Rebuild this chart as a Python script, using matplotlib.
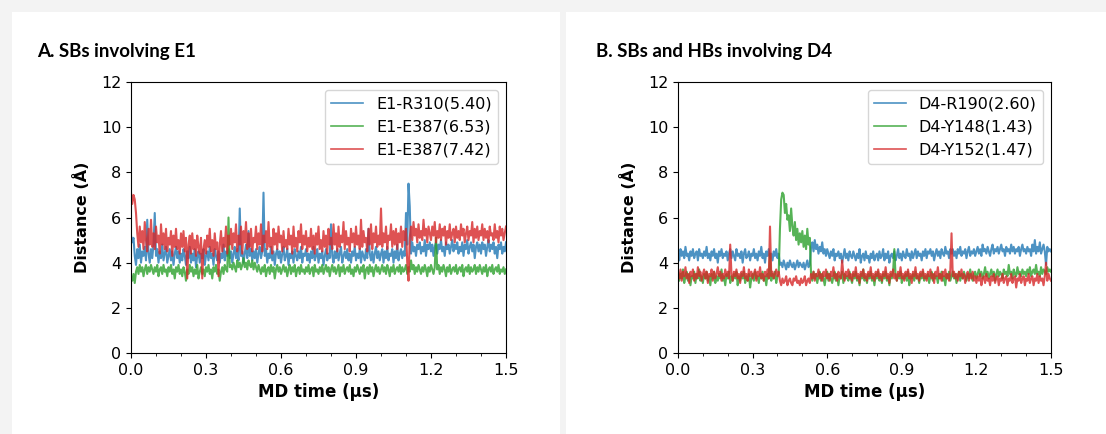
import numpy as np
import matplotlib.pyplot as plt
from matplotlib.patches import Rectangle

plt.rcParams['font.family'] = 'DejaVu Sans'

# MD time axis, one frame every 0.005 us
time_us = np.round(np.arange(301) * 0.005, 3)

# panel A: salt bridges involving E1
e1_r310 = [
    5.2, 4.9, 5.1, 4.3, 3.9, 4.6, 4.2, 4.8, 4.0, 4.5, 4.3, 4.7, 4.1, 5.9, 4.4, 4.0, 4.6, 4.2, 4.8, 6.2,
    4.3, 4.6, 4.0, 4.5, 4.2, 4.8, 4.1, 4.4, 4.7, 4.0, 4.3, 4.6, 4.1, 4.5, 3.9, 4.4, 4.7, 4.2, 4.5, 4.0,
    4.4, 4.1, 4.6, 4.3, 3.9, 4.5, 4.2, 4.7, 4.0, 4.4, 4.1, 4.6, 3.8, 4.3, 4.5, 4.0, 4.4, 4.2, 4.6, 3.9,
    4.3, 4.5, 4.1, 4.7, 4.2, 4.4, 3.9, 4.6, 4.3, 4.1, 4.5, 4.0, 4.4, 4.2, 4.8, 4.1, 4.5, 4.3, 4.6, 4.2,
    4.5, 4.0, 4.4, 4.7, 4.2, 4.6, 4.1, 6.4, 4.3, 4.5, 4.0, 4.4, 4.8, 4.2, 5.4, 4.3, 4.6, 4.1, 4.5, 4.2,
    4.6, 4.0, 4.4, 4.7, 4.2, 4.5, 7.1, 4.3, 4.6, 4.0, 4.4, 4.2, 4.7, 4.1, 4.5, 3.9, 4.4, 4.6, 4.2, 4.5,
    4.0, 4.4, 4.7, 4.1, 4.3, 4.6, 3.9, 4.4, 4.2, 4.5, 4.0, 4.6, 4.3, 4.1, 4.5, 4.2, 4.7, 4.0, 4.4, 4.3,
    4.6, 4.1, 4.4, 4.0, 4.5, 4.2, 4.7, 4.1, 4.3, 4.6, 4.0, 4.4, 4.2, 4.5, 3.9, 4.3, 4.6, 4.1, 4.4, 4.2,
    5.7, 4.3, 4.0, 4.5, 4.2, 4.6, 4.1, 4.4, 4.7, 4.0, 4.3, 4.5, 4.2, 4.6, 4.1, 4.4, 4.0, 4.5, 4.3, 4.7,
    4.1, 4.4, 4.2, 4.6, 4.0, 4.5, 4.3, 4.1, 4.6, 4.2, 5.5, 4.4, 4.1, 4.5, 4.0, 4.4, 4.7, 4.2, 4.5, 4.1,
    4.4, 4.6, 4.0, 4.5, 4.2, 4.7, 4.1, 4.4, 4.3, 4.6, 4.0, 4.5, 4.2, 4.8, 4.1, 4.4, 4.6, 4.2, 4.5, 4.3,
    6.2, 4.8, 7.5, 6.5, 4.4, 4.9, 4.5, 4.7, 4.3, 4.8, 4.6, 4.9, 4.4, 4.7, 4.5, 5.0, 4.3, 4.8, 4.6, 4.9,
    4.5, 4.8, 4.3, 4.7, 4.9, 4.4, 4.8, 4.6, 5.0, 4.5, 4.7, 4.3, 4.9, 4.6, 4.8, 4.4, 4.7, 5.0, 4.5, 4.8,
    4.6, 4.9, 4.4, 4.7, 4.5, 4.9, 4.3, 4.8, 4.6, 5.0, 4.4, 4.7, 4.9, 4.5, 4.8, 4.2, 4.7, 4.9, 4.5, 4.8,
    4.4, 4.9, 4.6, 4.8, 4.3, 4.7, 5.0, 4.5, 4.8, 4.6, 4.9, 4.4, 4.7, 4.2, 4.8, 4.6, 4.9, 4.4, 4.7, 4.5,
    4.9]
e1_e387_a = [
    3.3, 3.2, 3.5, 3.1, 3.6, 3.8, 3.5, 3.9, 3.6, 3.8, 3.4, 3.7, 3.9, 3.5, 3.8, 3.6, 3.9, 3.7, 3.5, 3.8,
    3.6, 3.9, 3.4, 3.7, 3.8, 3.5, 3.9, 3.6, 3.7, 3.4, 3.8, 3.6, 3.9, 3.5, 3.7, 3.3, 3.8, 3.6, 3.9, 3.5,
    3.7, 3.4, 3.8, 3.6, 3.2, 3.7, 3.5, 3.9, 3.6, 3.8, 3.4, 3.7, 3.5, 3.9, 3.3, 3.6, 3.8, 3.5, 3.7, 3.4,
    3.8, 3.6, 3.9, 3.5, 3.7, 3.3, 3.8, 3.6, 3.9, 3.5, 3.7, 3.2, 3.6, 3.8, 3.5, 3.9, 3.7, 3.6, 6.0, 3.8,
    3.9, 3.7, 4.0, 3.8, 3.6, 4.1, 3.8, 4.0, 3.7, 3.9, 4.2, 3.8, 4.0, 3.7, 4.1, 3.9, 3.8, 4.1, 3.7, 4.0,
    3.8, 3.6, 3.9, 3.7, 3.5, 3.8, 3.6, 3.9, 3.4, 3.7, 3.8, 3.5, 3.9, 3.6, 3.8, 3.3, 3.7, 3.9, 3.6, 3.8,
    3.5, 3.7, 3.9, 3.6, 3.8, 3.4, 3.7, 3.9, 3.5, 3.8, 3.6, 3.9, 3.4, 3.7, 3.8, 3.5, 3.9, 3.6, 3.7, 3.5,
    3.8, 3.6, 3.9, 3.5, 3.7, 3.8, 3.4, 3.9, 3.6, 3.7, 3.5, 3.8, 3.6, 3.9, 3.5, 3.7, 3.9, 3.6, 3.8, 3.4,
    3.7, 3.9, 3.6, 3.8, 3.5, 3.7, 3.9, 3.4, 3.8, 3.6, 3.9, 3.5, 3.7, 3.8, 3.6, 3.9, 3.5, 3.7, 3.4, 3.8,
    3.6, 3.9, 3.7, 3.5, 3.8, 3.6, 3.9, 3.3, 3.7, 3.8, 3.5, 3.9, 3.6, 3.8, 3.4, 3.7, 3.9, 3.6, 3.8, 3.5,
    3.7, 3.9, 3.6, 3.8, 3.5, 3.9, 3.7, 3.4, 3.8, 3.6, 3.9, 3.5, 3.7, 3.8, 3.6, 3.9, 3.5, 3.8, 3.6, 3.7,
    3.9, 3.5, 3.8, 3.6, 4.1, 3.7, 3.9, 3.5, 3.8, 3.6, 3.9, 3.7, 3.5, 3.8, 3.6, 3.9, 3.7, 3.4, 3.8, 3.6,
    3.9, 3.7, 3.5, 3.8, 5.1, 3.7, 3.9, 3.5, 3.8, 3.6, 3.9, 3.7, 3.4, 3.8, 3.6, 3.9, 3.5, 3.7, 3.8, 3.6,
    3.9, 3.5, 3.7, 3.8, 3.6, 3.9, 3.4, 3.7, 3.8, 3.6, 3.9, 3.5, 3.8, 3.6, 3.7, 3.9, 3.5, 3.8, 3.6, 3.9,
    3.7, 3.5, 3.8, 3.6, 3.9, 3.4, 3.7, 3.8, 3.6, 3.9, 3.5, 3.7, 3.8, 3.6, 3.9, 3.5, 3.7, 3.6, 3.8, 3.5,
    3.7]
e1_e387_b = [
    7.1, 6.6, 7.0, 6.8, 6.2, 5.3, 4.7, 5.6, 4.9, 5.4, 4.6, 5.8, 5.0, 4.5, 5.5, 4.8, 5.9, 4.7, 5.3, 4.6,
    5.6, 4.9, 5.2, 4.4, 5.7, 4.8, 5.3, 4.6, 5.5, 4.5, 5.1, 4.8, 5.4, 4.3, 5.2, 4.7, 5.5, 4.6, 5.0, 4.4,
    5.3, 4.7, 5.4, 4.5, 5.1, 3.3, 4.8, 5.2, 4.4, 5.3, 4.6, 5.0, 4.3, 5.2, 4.7, 4.4, 5.1, 3.3, 4.6, 5.0,
    4.4, 5.2, 4.7, 5.5, 4.5, 5.0, 4.3, 5.3, 4.6, 4.9, 3.4, 4.8, 5.4, 4.5, 5.1, 4.7, 5.6, 4.4, 5.2, 4.8,
    5.5, 4.6, 5.3, 4.9, 5.7, 4.5, 5.2, 4.8, 5.6, 4.4, 5.4, 4.9, 5.8, 4.6, 5.3, 4.7, 5.5, 4.5, 5.1, 4.9,
    5.6, 4.6, 5.3, 4.8, 5.7, 4.5, 5.2, 4.9, 5.4, 4.6, 5.8, 4.7, 5.1, 4.4, 5.5, 4.8, 5.3, 4.6, 5.6, 4.9,
    5.2, 4.5, 5.4, 4.7, 5.0, 4.6, 5.5, 4.8, 5.2, 4.4, 5.6, 4.7, 5.1, 4.5, 5.4, 4.9, 5.7, 4.6, 5.2, 4.8,
    5.4, 4.5, 5.1, 4.7, 5.5, 4.6, 5.2, 4.4, 5.3, 4.8, 5.6, 4.6, 5.0, 4.5, 5.4, 4.7, 5.2, 4.4, 5.5, 4.8,
    5.1, 4.6, 5.7, 4.8, 5.3, 4.5, 5.6, 4.7, 5.2, 4.9, 5.8, 4.6, 5.4, 4.8, 5.1, 4.5, 5.5, 4.9, 5.3, 4.7,
    5.6, 4.8, 5.2, 4.6, 5.9, 4.7, 5.4, 4.9, 5.1, 4.5, 5.5, 4.8, 5.7, 4.6, 5.3, 4.9, 5.6, 4.7, 5.2, 4.8,
    6.4, 4.7, 5.3, 4.9, 5.6, 4.6, 5.2, 5.0, 5.7, 4.7, 5.4, 4.8, 5.5, 4.6, 5.3, 4.9, 5.6, 4.7, 5.4, 5.0,
    5.5, 4.0, 3.2, 5.1, 5.6, 5.0, 5.8, 5.2, 5.5, 4.9, 5.7, 5.1, 5.4, 5.0, 5.9, 5.2, 5.5, 4.9, 5.6, 5.3,
    5.0, 5.6, 5.2, 5.8, 4.9, 5.4, 5.1, 5.7, 5.0, 5.5, 5.2, 5.6, 4.8, 5.4, 5.1, 5.7, 5.0, 5.3, 5.5, 4.9,
    5.6, 5.1, 5.4, 5.0, 5.7, 5.2, 5.5, 4.9, 5.3, 5.6, 5.0, 5.4, 5.2, 5.8, 4.9, 5.5, 5.1, 5.6, 5.0, 5.4,
    5.2, 5.7, 5.0, 5.5, 5.1, 5.4, 4.9, 5.6, 5.2, 5.3, 5.0, 5.7, 5.1, 5.4, 4.9, 5.6, 5.2, 5.5, 5.0, 5.3,
    5.6]

# panel B: salt bridges and H-bonds involving D4
d4_r190 = [
    4.4, 4.1, 4.6, 4.3, 4.5, 4.2, 4.7, 4.3, 4.4, 4.1, 4.5, 4.3, 4.6, 4.2, 4.4, 4.5, 4.1, 4.6, 4.3, 4.4,
    4.2, 4.5, 4.3, 4.7, 4.2, 4.4, 4.1, 4.5, 4.3, 4.6, 4.2, 4.4, 4.0, 4.5, 4.3, 4.6, 4.2, 4.4, 4.3, 4.5,
    4.1, 4.4, 4.6, 4.2, 4.5, 4.3, 4.1, 4.6, 4.3, 4.4, 4.2, 4.5, 4.0, 4.4, 4.6, 4.2, 4.3, 4.5, 4.1, 4.4,
    4.3, 4.6, 4.2, 4.4, 4.1, 4.5, 4.3, 4.7, 4.2, 4.4, 4.0, 4.5, 4.3, 4.6, 4.2, 4.4, 4.1, 4.5, 4.3, 4.6,
    4.2, 4.4, 3.9, 4.0, 3.8, 4.1, 3.9, 3.7, 4.0, 3.8, 4.1, 3.9, 3.8, 4.0, 3.7, 3.9, 4.1, 3.8, 4.0, 3.9,
    3.8, 4.0, 3.7, 3.9, 4.1, 3.8, 3.9, 4.7, 4.9, 4.5, 5.0, 4.6, 4.8, 4.4, 4.7, 4.5, 4.9, 4.4, 4.6, 4.3,
    4.6, 4.4, 4.2, 4.5, 4.3, 4.6, 4.1, 4.4, 4.3, 4.5, 4.2, 4.4, 4.0, 4.3, 4.6, 4.2, 4.4, 4.1, 4.5, 4.3,
    4.2, 4.5, 4.3, 4.1, 4.4, 4.2, 4.6, 4.0, 4.3, 4.4, 4.1, 4.5, 4.2, 4.3, 4.0, 4.4, 4.2, 4.5, 4.1, 4.3,
    4.4, 4.1, 4.5, 4.2, 4.3, 4.6, 4.1, 4.4, 4.2, 4.5, 4.0, 4.3, 4.4, 4.2, 4.5, 4.1, 4.3, 4.6, 4.2, 4.4,
    4.1, 4.5, 4.3, 4.2, 4.6, 4.3, 4.4, 4.1, 4.5, 4.2, 4.4, 4.6, 4.2, 4.5, 4.3, 4.4, 4.1, 4.5, 4.3, 4.6,
    4.2, 4.5, 4.4, 4.6, 4.3, 4.5, 4.1, 4.4, 4.6, 4.3, 4.5, 4.2, 4.6, 4.4, 4.3, 4.7, 4.4, 4.5, 4.2, 4.6,
    4.4, 4.6, 4.3, 4.5, 4.2, 4.6, 4.4, 4.7, 4.3, 4.5, 4.4, 4.6, 4.2, 4.5, 4.7, 4.3, 4.5, 4.4, 4.6, 4.3,
    4.5, 4.7, 4.4, 4.6, 4.3, 4.8, 4.5, 4.6, 4.4, 4.7, 4.5, 4.3, 4.6, 4.8, 4.4, 4.6, 4.5, 4.7, 4.4, 4.6,
    4.8, 4.5, 4.6, 4.3, 4.7, 4.5, 4.6, 4.4, 4.8, 4.5, 4.7, 4.4, 4.6, 4.5, 4.7, 4.3, 4.6, 4.8, 4.5, 4.6,
    4.4, 4.7, 4.5, 4.6, 4.3, 4.8, 4.5, 5.0, 4.4, 4.7, 4.5, 4.9, 4.4, 4.6, 4.8, 4.5, 3.9, 4.7, 4.5, 4.6,
    4.5]
d4_y148 = [
    3.6, 3.2, 3.5, 3.3, 3.7, 3.1, 3.4, 3.6, 3.2, 3.5, 3.0, 3.4, 3.3, 3.6, 3.1, 3.5, 3.3, 3.7, 3.2, 3.4,
    3.1, 3.5, 3.3, 3.6, 3.2, 3.4, 3.0, 3.5, 3.3, 3.6, 3.1, 3.4, 3.2, 3.5, 3.3, 3.7, 3.2, 3.4, 3.0, 3.5,
    3.3, 3.6, 3.1, 3.4, 3.2, 3.5, 3.3, 3.6, 3.0, 3.4, 3.2, 3.5, 3.3, 3.6, 3.1, 3.4, 3.2, 3.5, 2.9, 3.3,
    3.5, 3.2, 3.6, 3.3, 3.4, 3.1, 3.5, 3.3, 3.6, 3.2, 3.4, 3.0, 3.5, 3.3, 4.4, 3.2, 3.5, 3.3, 3.6, 3.1,
    3.4, 3.5, 5.5, 6.8, 7.1, 7.0, 6.2, 6.6, 5.9, 6.1, 5.4, 6.4, 5.6, 5.2, 5.8, 5.0, 5.5, 4.8, 5.3, 4.9,
    5.4, 4.7, 5.2, 4.6, 5.5, 4.8, 5.1, 3.5, 3.2, 3.6, 3.3, 3.5, 3.1, 3.4, 3.6, 3.2, 3.5, 3.3, 3.0, 3.4,
    3.6, 3.2, 3.5, 3.3, 3.1, 3.4, 3.6, 3.2, 3.5, 3.0, 3.4, 3.3, 3.6, 3.1, 3.5, 3.3, 3.4, 3.2, 3.6, 3.3,
    3.1, 3.5, 3.3, 3.6, 3.2, 3.4, 3.0, 3.5, 3.3, 3.7, 3.2, 3.4, 3.1, 3.5, 3.3, 3.6, 3.2, 3.4, 3.0, 3.5,
    3.3, 3.6, 3.2, 3.4, 3.1, 3.5, 3.3, 3.6, 3.2, 3.4, 3.0, 3.5, 3.3, 3.6, 4.6, 3.4, 3.2, 3.5, 3.3, 3.6,
    3.1, 3.4, 3.3, 3.5, 3.2, 3.6, 3.0, 3.4, 3.3, 3.5, 3.2, 3.6, 3.3, 3.4, 3.1, 3.5, 3.3, 3.6, 3.2, 3.4,
    3.3, 3.5, 3.1, 3.4, 3.6, 3.2, 3.5, 3.3, 3.4, 3.1, 3.5, 3.3, 3.6, 3.2, 3.4, 3.0, 3.5, 3.3, 3.6, 3.2,
    3.4, 3.6, 3.3, 3.5, 3.1, 3.4, 3.6, 3.2, 3.5, 3.3, 3.6, 3.4, 3.2, 3.5, 3.3, 3.7, 3.4, 3.2, 3.5, 3.6,
    3.3, 3.5, 3.7, 3.4, 3.6, 3.3, 3.5, 3.8, 3.4, 3.6, 3.3, 3.5, 3.7, 3.4, 3.6, 3.2, 3.5, 3.7, 3.4, 3.6,
    3.5, 3.3, 3.7, 3.5, 3.6, 3.4, 3.9, 3.5, 3.6, 3.3, 3.7, 3.5, 3.4, 3.8, 3.5, 3.6, 3.4, 3.7, 3.5, 3.6,
    3.4, 3.7, 3.5, 3.8, 3.4, 3.6, 3.7, 3.5, 3.9, 3.5, 3.6, 3.4, 3.8, 3.5, 3.7, 3.6, 3.5, 3.8, 3.6, 3.7,
    3.6]
d4_y152 = [
    3.5, 3.3, 3.7, 3.2, 3.6, 3.4, 3.8, 3.3, 3.5, 3.1, 3.6, 3.4, 3.7, 3.2, 3.5, 3.3, 3.8, 3.4, 3.6, 3.2,
    3.5, 3.7, 3.3, 3.6, 3.1, 3.5, 3.4, 3.7, 3.2, 3.6, 3.3, 3.5, 3.8, 3.4, 3.6, 3.2, 3.5, 3.3, 3.7, 3.4,
    3.6, 3.3, 4.8, 3.5, 3.2, 3.6, 3.4, 3.7, 3.3, 3.5, 3.1, 3.6, 3.4, 3.8, 3.3, 3.5, 3.2, 3.7, 3.4, 3.6,
    3.3, 3.5, 3.7, 3.2, 3.6, 3.4, 3.8, 3.3, 3.5, 3.2, 3.6, 3.4, 3.7, 3.3, 5.6, 3.4, 3.6, 3.3, 3.5, 3.7,
    3.4, 3.6, 3.2, 3.0, 3.3, 3.1, 3.2, 3.4, 3.0, 3.2, 3.3, 3.1, 3.0, 3.3, 3.2, 3.4, 3.1, 3.2, 3.0, 3.3,
    3.1, 3.2, 3.4, 3.0, 3.2, 3.3, 3.1, 3.5, 3.3, 3.6, 3.2, 3.5, 3.4, 3.7, 3.3, 3.5, 3.2, 3.6, 3.4, 3.7,
    3.3, 3.5, 3.2, 3.6, 3.4, 3.8, 3.3, 3.5, 3.2, 3.6, 3.4, 3.3, 4.1, 3.5, 3.2, 3.6, 3.4, 3.7, 3.3, 3.5,
    3.2, 3.6, 3.4, 3.8, 3.3, 3.5, 3.1, 3.6, 3.4, 3.7, 3.3, 3.5, 3.2, 3.6, 3.4, 3.8, 3.3, 3.5, 3.2, 3.6,
    3.4, 3.7, 3.3, 3.5, 3.2, 3.6, 3.4, 3.8, 3.3, 3.5, 3.1, 3.6, 3.4, 3.7, 3.3, 3.5, 3.2, 3.6, 3.4, 3.8,
    3.3, 3.5, 3.2, 3.6, 3.4, 3.7, 3.3, 3.5, 3.1, 3.6, 3.4, 3.8, 3.3, 3.5, 3.2, 3.6, 3.4, 3.7, 3.3, 3.5,
    3.2, 3.6, 3.4, 3.7, 3.3, 3.5, 3.1, 3.6, 3.4, 3.8, 3.3, 3.5, 3.2, 3.6, 3.4, 3.7, 3.3, 3.5, 3.2, 3.6,
    5.3, 3.4, 3.6, 3.3, 3.5, 3.2, 3.6, 3.4, 3.7, 3.3, 3.5, 3.1, 3.4, 3.6, 3.2, 3.5, 3.3, 3.6, 3.2, 3.4,
    3.1, 3.4, 3.2, 3.5, 3.0, 3.3, 3.4, 3.1, 3.5, 3.2, 3.3, 3.0, 3.4, 3.2, 3.5, 3.1, 3.3, 3.4, 3.0, 3.3,
    3.2, 3.5, 3.1, 3.3, 3.4, 3.0, 3.3, 3.2, 3.5, 3.1, 3.3, 3.4, 2.9, 3.3, 3.2, 3.5, 3.1, 3.3, 3.4, 3.0,
    3.3, 3.2, 3.5, 3.1, 3.3, 3.4, 3.0, 3.3, 3.2, 3.5, 3.1, 3.4, 3.2, 3.3, 3.0, 3.4, 4.0, 3.2, 3.5, 3.3,
    3.2]

labels_a = ['E1-R310(5.40)', 'E1-E387(6.53)', 'E1-E387(7.42)']
labels_b = ['D4-R190(2.60)', 'D4-Y148(1.43)', 'D4-Y152(1.47)']
titles = ['A. SBs involving E1', 'B. SBs and HBs involving D4']
colors = ['#1f77b4', '#2ca02c', '#d62728']

W, H = 1106, 434
fig = plt.figure(figsize=(W / 100, H / 100), dpi=100)
fig.patch.set_facecolor('#f3f3f3')

# white cards behind each panel
for x0, x1 in [(12, 560), (566, 1106)]:
    fig.patches.append(Rectangle((x0 / W, 0), (x1 - x0) / W, 1 - 12 / H,
                                 transform=fig.transFigure, facecolor='white',
                                 edgecolor='none', zorder=-1))

ax_a = fig.add_axes([131 / W, 1 - 353 / H, 375 / W, 271 / H])
ax_b = fig.add_axes([678 / W, 1 - 353 / H, 373 / W, 271 / H])

panels = [
    (ax_a, [e1_r310, e1_e387_a, e1_e387_b], labels_a, 37),
    (ax_b, [d4_r190, d4_y148, d4_y152], labels_b, 596),
]
for (ax, series, labels, tx), title in zip(panels, titles):
    for y, lab, c in zip(series, labels, colors):
        ax.plot(time_us, y, color=c, lw=1.5, alpha=0.8, label=lab)
    ax.set_xlim(0, 1.5)
    ax.set_ylim(0, 12)
    ax.set_xticks(np.arange(0, 1.51, 0.3))
    ax.set_xticks(np.arange(0, 1.51, 0.1), minor=True)
    ax.set_yticks(np.arange(0, 13, 2))
    ax.tick_params(labelsize=11.5)
    ax.set_xlabel('MD time (μs)', fontsize=12, fontweight='bold', labelpad=4)
    ax.set_ylabel('Distance (Å)', fontsize=11.5, fontweight='bold', labelpad=8)
    leg = ax.legend(loc='upper right', fontsize=11.5)
    for line in leg.get_lines():
        line.set_linewidth(1.2)
    fig.text(tx / W, 1 - 57 / H, title, fontsize=13.5, fontweight='bold',
             family=['Lato', 'DejaVu Sans'], va='baseline')

fig.savefig('out.png', dpi=100, facecolor=fig.get_facecolor())
